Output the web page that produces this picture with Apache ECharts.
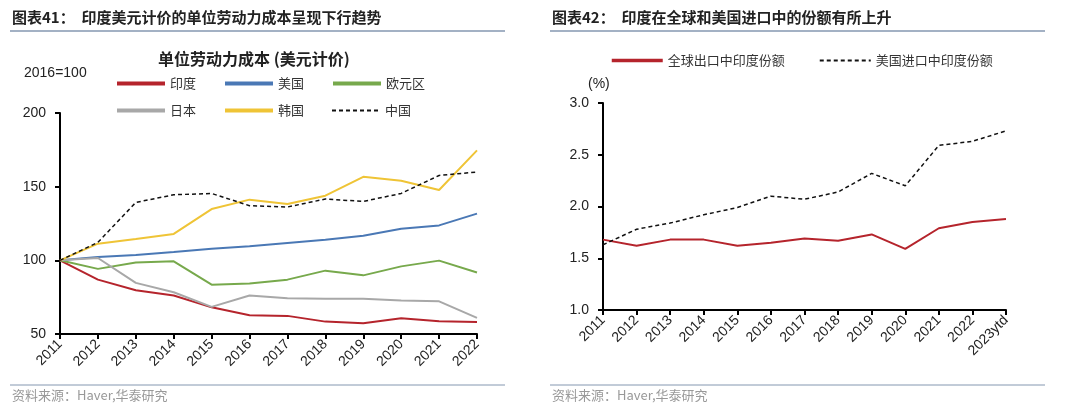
<!DOCTYPE html>
<html><head><meta charset="utf-8">
<script src="https://cdn.jsdelivr.net/npm/echarts@6/dist/echarts.min.js"></script>
<style>html,body{margin:0;padding:0;background:#fff}#c{width:1080px;height:418px}</style>
</head><body><div id="c"></div>
<script>
const yearsL = ['2011','2012','2013','2014','2015','2016','2017','2018','2019','2020','2021','2022'];
const india = [100, 86.9, 79.7, 76.1, 68.1, 62.7, 62.3, 58.4, 57.3, 60.7, 58.6, 58.2];
const usa = [100, 102.3, 103.7, 105.7, 107.9, 109.5, 111.8, 114.0, 116.7, 121.5, 123.7, 131.7];
const euro = [100, 94.2, 98.6, 99.3, 83.5, 84.2, 86.9, 93.0, 89.8, 95.9, 99.8, 91.7];
const japan = [100, 101.6, 84.7, 78.3, 68.4, 76.1, 74.2, 74.0, 74.0, 72.7, 72.2, 60.9];
const korea = [100, 111.3, 114.5, 117.9, 134.8, 141.2, 138.2, 143.9, 156.7, 154.0, 147.7, 174.6];
const china = [100, 112.2, 139.3, 144.5, 145.4, 137.1, 136.2, 141.6, 140.0, 145.4, 157.6, 159.9];

const yearsR = ['2011','2012','2013','2014','2015','2016','2017','2018','2019','2020','2021','2022','2023ytd'];
const worldShare = [1.68, 1.62, 1.68, 1.68, 1.62, 1.65, 1.69, 1.67, 1.73, 1.59, 1.79, 1.85, 1.88];
const usShare = [1.63, 1.78, 1.84, 1.92, 1.99, 2.10, 2.07, 2.14, 2.32, 2.20, 2.59, 2.63, 2.73];

const cjk = '"Noto Sans CJK SC", sans-serif';
const num = '"Liberation Sans", Arial, sans-serif';

const chart = echarts.init(document.getElementById('c'));
const axisLine = {show:true, lineStyle:{color:'#000', width:2}};
const axisTick = {show:true, inside:false, length:5, lineStyle:{color:'#000', width:2}};
const xLabel = {rotate:45, fontSize:14, color:'#222', fontFamily:num, margin:8, interval:0};
const yLabel = {fontSize:14, color:'#222', fontFamily:num, margin:14};
const legText = {fontSize:13, color:'#333', fontFamily:cjk};

function ln(name, data, color, dashed, xi, w){
  return {name, type:'line', data, xAxisIndex:xi, yAxisIndex:xi, symbol:'none', smooth:false,
    lineStyle:{color, width:w||2, type: dashed ? [4,3] : 'solid'}, itemStyle:{color}};
}

chart.setOption({
  animation:false,
  textStyle:{fontFamily:cjk},
  grid:[
    {left:60, top:113, width:417, height:221},
    {left:603, top:103, width:403, height:207}
  ],
  xAxis:[
    {type:'category', gridIndex:0, data:yearsL, boundaryGap:false, axisLine, axisTick:{...axisTick, alignWithLabel:true}, axisLabel:xLabel, splitLine:{show:false}},
    {type:'category', gridIndex:1, data:yearsR, boundaryGap:false, axisLine, axisTick:{...axisTick, alignWithLabel:true}, axisLabel:xLabel, splitLine:{show:false}}
  ],
  yAxis:[
    {type:'value', gridIndex:0, min:50, max:200, interval:50, axisLine, axisTick, axisLabel:yLabel, splitLine:{show:false}},
    {type:'value', gridIndex:1, min:1.0, max:3.0, interval:0.5, axisLine, axisTick, axisLabel:{...yLabel, formatter:v=>v.toFixed(1)}, splitLine:{show:false}}
  ],
  legend:[
    {left:110, top:72, itemGap:27, itemWidth:48, itemHeight:14, data:['印度','美国','欧元区'],
      textStyle:legText, itemStyle:{opacity:0}, lineStyle:{width:4}},
    {left:110, top:99, itemGap:27, itemWidth:48, itemHeight:14,
      data:[{name:'日本', lineStyle:{width:4}}, {name:'韩国', lineStyle:{width:4}}, {name:'中国', lineStyle:{width:2}}],
      textStyle:legText, itemStyle:{opacity:0}},
    {left:605, top:49, itemGap:34, itemWidth:51, itemHeight:14,
      data:[{name:'全球出口中印度份额', lineStyle:{width:3.5}}, {name:'美国进口中印度份额', lineStyle:{width:2}}],
      textStyle:legText, itemStyle:{opacity:0}}
  ],
  series:[
    ln('印度', india, '#b5242c', false, 0),
    ln('美国', usa, '#4a78b5', false, 0),
    ln('欧元区', euro, '#77a94c', false, 0),
    ln('日本', japan, '#a8a8a8', false, 0),
    ln('韩国', korea, '#efc436', false, 0),
    ln('中国', china, '#111', true, 0, 1.5),
    ln('全球出口中印度份额', worldShare, '#b5242c', false, 1),
    ln('美国进口中印度份额', usShare, '#111', true, 1, 1.5)
  ],
  graphic:[
    {type:'text', left:12, top:10, style:{text:'图表41：  印度美元计价的单位劳动力成本呈现下行趋势', font:'bold 15px '+cjk, fill:'#222'}},
    {type:'line', shape:{x1:10, y1:31, x2:505, y2:31}, style:{stroke:'#8497b0', lineWidth:1.5}},
    {type:'text', left:552, top:10, style:{text:'图表42：  印度在全球和美国进口中的份额有所上升', font:'bold 15px '+cjk, fill:'#222'}},
    {type:'line', shape:{x1:550, y1:31, x2:1045, y2:31}, style:{stroke:'#8497b0', lineWidth:1.5}},
    {type:'text', left:158, top:51, style:{text:'单位劳动力成本 (美元计价)', font:'bold 16px '+cjk, fill:'#222'}},
    {type:'text', left:24, top:66, style:{text:'2016=100', font:'14px '+num, fill:'#222'}},
    {type:'text', left:588, top:77, style:{text:'(%)', font:'14px '+num, fill:'#222'}},
    {type:'line', shape:{x1:10, y1:385, x2:505, y2:385}, style:{stroke:'#8497b0', lineWidth:1}},
    {type:'line', shape:{x1:550, y1:385, x2:1045, y2:385}, style:{stroke:'#8497b0', lineWidth:1}},
    {type:'text', left:12, top:389, style:{text:'资料来源：Haver,华泰研究', font:'13px '+cjk, fill:'#999'}},
    {type:'text', left:552, top:389, style:{text:'资料来源：Haver,华泰研究', font:'13px '+cjk, fill:'#999'}}
  ]
});
</script></body></html>
